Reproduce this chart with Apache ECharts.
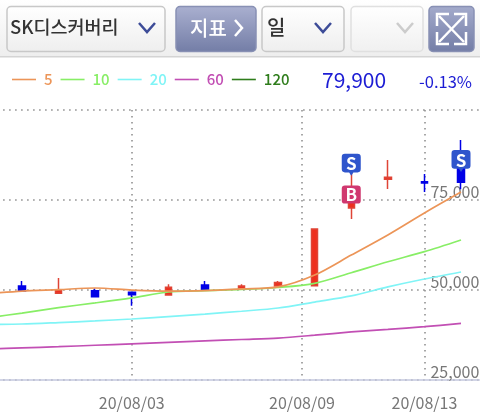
<!DOCTYPE html>
<html><head><meta charset="utf-8">
<style>html,body{margin:0;padding:0;background:#fff}#c{width:480px;height:420px}</style>
<script src="https://cdn.jsdelivr.net/npm/echarts@6/dist/echarts.min.js"></script>
</head><body><div id="c"></div>
<script>
const categories = ['20/07/28','20/07/29','20/07/30','20/07/31','20/08/03','20/08/04','20/08/05','20/08/06','20/08/07','20/08/10','20/08/11','20/08/12','20/08/13','20/08/14'];
// [open, close, low, high]
const candles = [
 [48400,48900,48000,49300],[51100,49700,49700,52500],[49100,50000,49100,53350],[49800,48150,48150,50400],
 [49350,48700,45650,49350],[48600,50750,48600,51600],[51400,50000,50000,52500],[50200,51100,50000,51600],
 [51100,52050,50550,52500],[51200,66950,51200,66950],[72800,76400,69700,84700],[80750,81300,78050,86100],
 [80100,79700,77200,82200],[86100,79900,78000,91650]];
const ma5  = [48900,49700,50100,50550,50000,49700,49850,50300,50850,54150,59700,65300,71400,77200];
const ma10 = [42200,43600,45100,46400,47800,49450,49850,50150,50700,51850,54800,57850,60650,63900];
const ma20 = [40400,40550,40950,41400,41950,42600,43300,44100,45000,46650,48350,50850,53050,55000];
const ma60 = [33600,33900,34250,34650,35050,35450,35850,36250,36650,37450,38350,39050,39800,40750];
const ma120 = [];
const sellSignals = [[10,84800],[13,85800]];
const buySignals = [[10,76500]];
const xTickValues = [4,8.654,12];
const xTickLabels = ['20/08/03','20/08/09','20/08/13'];
const yTickValues = [25000,50000,75000];
const yTickLabels = ['25,000','50,000','75,000'];
const legendNames = ['5','10','20','60','120'];
const legendColors = ['#ec9558','#88ee66','#80f4f6','#c24fb4','#2f7d1c'];

const FONT = '"Noto Sans CJK KR","Noto Sans",sans-serif';
const RED='#ee2f1e', BLUE='#0000e6', GRAY='#777777';
const box=(x,w,stroke,c1,c2)=>({type:'rect',shape:{x:x,y:6.5,width:w,height:45,r:4},
  style:{stroke:stroke,lineWidth:1.5,fill:{type:'linear',x:0,y:0,x2:0,y2:1,colorStops:[{offset:0,color:c1},{offset:1,color:c2}]}}});
const chev=(cx,cy,col)=>({type:'polyline',shape:{points:[[cx-8,cy-5],[cx,cy+4],[cx+8,cy-5]]},style:{stroke:col,lineWidth:2.5,fill:null}});
const txt=(x,y,t,size,col,w,align)=>({type:'text',x:x,y:y,style:{text:t,fontFamily:FONT,fontSize:size,fontWeight:w||'normal',fill:col,textAlign:align||'left',textVerticalAlign:'middle'}});
const arrow=(pts)=>({type:'polyline',shape:{points:pts},style:{stroke:'#fff',lineWidth:2.5,fill:null}});

const S_PATH='path://M3,0H15Q18,0 18,3V14Q18,17 15,17H11L9,20L7,17H3Q0,17 0,14V3Q0,0 3,0Z';
const B_PATH='path://M3,1H15Q18,1 18,4V15Q18,18 15,18H3Q0,18 0,15V4Q0,1 3,1Z';

const chart=echarts.init(document.getElementById('c'),null,{renderer:'canvas'});
chart.setOption({
 animation:false,
 textStyle:{fontFamily:FONT},
 graphic:{elements:[
  {type:'rect',z:-1,shape:{x:0,y:0,width:480,height:56},style:{fill:{type:'linear',x:0,y:0,x2:0,y2:1,colorStops:[{offset:0,color:'#ffffff'},{offset:1,color:'#eeeeee'}]}}},
  {type:'rect',z:-1,shape:{x:0,y:56,width:480,height:1.5},style:{fill:'#d4d4d4'}},
  box(7,158,'#c8c8c8','#ffffff','#eeeeee'),
  txt(10,27,'SK디스커버리',18.5,'#333333','500'),
  chev(147,28,'#3d4c98'),
  box(176,80,'#8890b4','#aab0d0','#737da6'),
  txt(190,28,'지표',20,'#ffffff','500'),
  {type:'polyline',shape:{points:[[235,20],[242,28],[235,36]]},style:{stroke:'#fff',lineWidth:2.5,fill:null}},
  box(262,82,'#c8c8c8','#ffffff','#eeeeee'),
  txt(267,27,'일',20,'#333333','500'),
  chev(323,28,'#3d4c98'),
  box(351,72,'#e0e0e0','#ffffff','#f0f0f0'),
  chev(405,28,'#cccccc'),
  box(429,45,'#8890b4','#a4abcc','#737da6'),
  {type:'line',shape:{x1:439,y1:16,x2:464,y2:42},style:{stroke:'#fff',lineWidth:2.5}},
  {type:'line',shape:{x1:464,y1:16,x2:439,y2:42},style:{stroke:'#fff',lineWidth:2.5}},
  arrow([[437,26],[437,14],[449,14]]), arrow([[454,14],[466,14],[466,26]]),
  arrow([[437,32],[437,44],[449,44]]), arrow([[454,44],[466,44],[466,32]]),
  txt(322,80,'79,900',21,'#1c1cd4'),
  txt(419,82,'-0.13%',16.5,'#1c1cd4')
 ]},
 legend:{left:12,top:72,padding:0,itemGap:8,icon:'rect',itemWidth:24,itemHeight:1.6,
  data:legendNames.map((n,i)=>({name:n,textStyle:{color:legendColors[i],fontSize:15,fontWeight:500,padding:[0,0,0,3]}}))},
 grid:{left:-32.87,right:0.7,top:110,bottom:40,containLabel:false,outerBoundsMode:'none'},
 xAxis:[
  {type:'category',data:categories,position:'bottom',boundaryGap:true,
   axisLine:{show:true,lineStyle:{color:'#c4c8de',width:1.5}},axisTick:{show:false},axisLabel:{show:false},splitLine:{show:false}},
  {type:'value',position:'bottom',min:-0.5,max:13.5,
   axisLine:{show:false},axisTick:{show:false,customValues:xTickValues},
   axisLabel:{show:true,customValues:xTickValues,margin:15,color:GRAY,fontSize:16,fontFamily:FONT,
     hideOverlap:false,showMinLabel:true,showMaxLabel:true,
     formatter:v=>xTickLabels[xTickValues.indexOf(v)]||''},
   splitLine:{show:true,lineStyle:{color:'#8a8a8a',width:1.5,type:[1.5,4.5]}}}
 ],
 yAxis:{type:'value',position:'right',min:25000,max:100000,interval:25000,
  axisLine:{show:false},axisTick:{show:false},
  axisLabel:{inside:true,margin:0,color:GRAY,fontSize:16,fontFamily:FONT,verticalAlign:'bottom',
    formatter:v=>yTickLabels[yTickValues.indexOf(v)]||''},
  splitLine:{show:true,lineStyle:{color:'#8a8a8a',width:1.5,type:[1.5,4.5]}}},
 series:[
  {type:'candlestick',name:'candle',data:candles,barWidth:7,
   itemStyle:{color:RED,color0:BLUE,borderColor:'#df4436',borderColor0:BLUE,borderWidth:1.5}},
  {type:'line',name:'120',data:ma120,showSymbol:false,lineStyle:{color:legendColors[4],width:1.7},itemStyle:{color:legendColors[4]}},
  {type:'line',name:'60',data:ma60,smooth:0.3,showSymbol:false,lineStyle:{color:legendColors[3],width:1.7},itemStyle:{color:legendColors[3]}},
  {type:'line',name:'20',data:ma20,smooth:0.3,showSymbol:false,lineStyle:{color:legendColors[2],width:1.7},itemStyle:{color:legendColors[2]}},
  {type:'line',name:'10',data:ma10,smooth:0.3,showSymbol:false,lineStyle:{color:legendColors[1],width:1.7},itemStyle:{color:legendColors[1]}},
  {type:'line',name:'5',data:ma5,smooth:0.3,showSymbol:false,lineStyle:{color:legendColors[0],width:1.7},itemStyle:{color:legendColors[0]}},
  {type:'scatter',name:'sell',data:sellSignals,symbol:S_PATH,symbolSize:[19,22],z:5,
   itemStyle:{color:'#2f55cc',opacity:1},
   label:{show:true,position:'inside',formatter:'S',color:'#fff',fontWeight:'bold',fontSize:17,offset:[0,-1]}},
  {type:'scatter',name:'buy',data:buySignals,symbol:B_PATH,symbolSize:[19,18],z:5,
   itemStyle:{color:'#d0386f',opacity:1},
   label:{show:true,position:'inside',formatter:'B',color:'#fff',fontWeight:'bold',fontSize:17}}
 ]
});
</script></body></html>
